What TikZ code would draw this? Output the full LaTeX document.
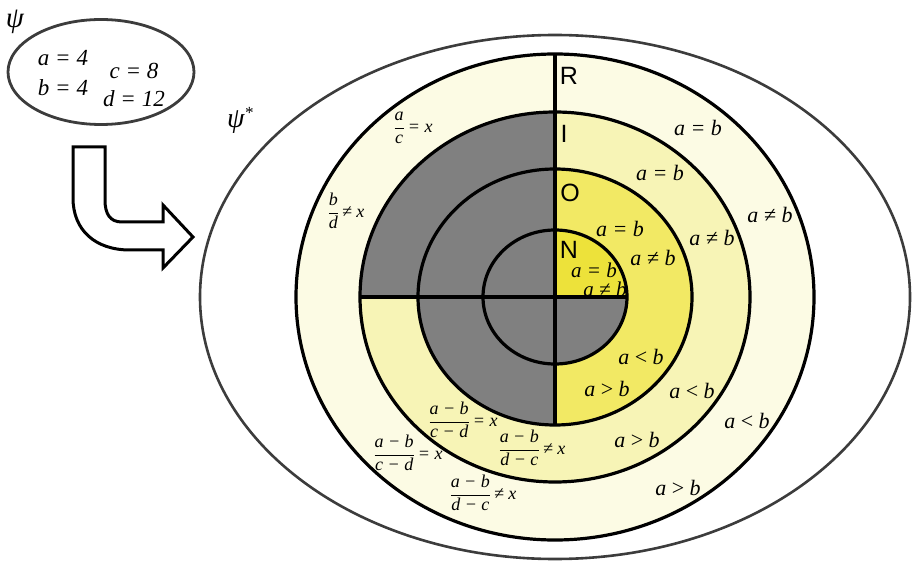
\documentclass[tikz,border=0pt]{standalone}
\usepackage{fontspec}
\setmainfont{Liberation Serif}
\setsansfont{Liberation Sans}
\usetikzlibrary{shapes.geometric}
\definecolor{colR}{HTML}{FCFBE4}
\definecolor{colI}{HTML}{F7F4B6}
\definecolor{colO}{HTML}{F2E964}
\definecolor{colN}{HTML}{EDE23A}
\definecolor{colG}{HTML}{808080}
\definecolor{edgeG}{HTML}{3C3C3C}
\newcommand{\myfr}[2]{$\displaystyle\frac{\hbox{#1}}{\hbox{#2}}$}
\tikzset{
  ring/.style={draw=black, line width=3.2pt},
  grayline/.style={draw=edgeG, line width=2.6pt},
  eq/.style={font=\fontsize{22}{24}\selectfont\itshape, inner sep=0pt},
  neq/.style={font=\fontsize{21}{23}\selectfont\itshape, inner sep=0pt},
  freq/.style={font=\fontsize{18}{20}\selectfont\itshape, inner sep=0pt},
  ringname/.style={font=\fontsize{25}{27}\selectfont\sffamily, inner sep=0pt},
  psieq/.style={font=\fontsize{23}{25}\selectfont\itshape, inner sep=0pt},
  arrowshape/.style={draw=black, fill=white, line width=3pt, line join=miter}
}
\begin{document}
\begin{tikzpicture}[x=1pt,y=-1pt]
\useasboundingbox (0,0) rectangle (912,561);
% outer psi* ellipse
\coordinate (C) at (555,297);
\draw[grayline] (C) ellipse [x radius=355pt, y radius=262pt];
% ring fills
\fill[colR] (C) ellipse [x radius=259pt, y radius=243pt];
\fill[colI] (C) ellipse [x radius=195pt, y radius=185pt];
\fill[colO] (C) ellipse [x radius=137pt, y radius=128pt];
\fill[colN] (C) ellipse [x radius=72pt, y radius=67pt];
% gray quadrants
\begin{scope}
  \clip (0,0) rectangle (555,297);
  \fill[colG] (C) ellipse [x radius=195pt, y radius=185pt];
\end{scope}
\begin{scope}
  \clip (0,297) rectangle (555,561);
  \fill[colG] (C) ellipse [x radius=137pt, y radius=128pt];
\end{scope}
\begin{scope}
  \clip (555,297) rectangle (912,561);
  \fill[colG] (C) ellipse [x radius=72pt, y radius=67pt];
\end{scope}
% ring outlines
\draw[ring] (C) ellipse [x radius=259pt, y radius=243pt];
\draw[ring] (C) ellipse [x radius=195pt, y radius=185pt];
\draw[ring] (C) ellipse [x radius=137pt, y radius=128pt];
\draw[ring] (C) ellipse [x radius=72pt, y radius=67pt];
\coordinate (vtop) at (555,54);
\coordinate (vbot) at (555,425);
\coordinate (hl) at (360,297);
\coordinate (hr) at (627,297);
\draw[ring] (vtop) -- (vbot);
\draw[ring] (hl) -- (hr);
% psi ellipse
\node[ellipse, draw=edgeG, line width=2.8pt, minimum width=186pt, minimum height=105pt, inner sep=0pt] (psibox) at (101,72) {};
\node[font=\fontsize{29}{30}\selectfont\itshape, inner sep=0pt] (psi) at (15,22) {ψ};
\node[psieq] (a4) at (63,58) {a = 4};
\node[psieq] (b4) at (63,88) {b = 4};
\node[psieq] (c8) at (134,71) {c = 8};
\node[psieq] (d12) at (134,99) {d = 12};
% arrow
\draw[arrowshape] (73,147) -- (105,147) -- (105,200) .. controls (105,214) and (110,222) .. (122,222) -- (163,222) -- (163,205) -- (193,237) -- (163,268) -- (163,250) -- (130,250) .. controls (95,250) and (73,230) .. (73,198) -- cycle;
% psi*
\node[font=\fontsize{28}{30}\selectfont\itshape, inner sep=0pt] (psis) at (240,120) {ψ\raisebox{9pt}{\fontsize{17}{18}\selectfont *}};
% ring names
\node[ringname] (nR) at (569,76) {R};
\node[ringname] (nI) at (564,134) {I};
\node[ringname] (nO) at (570,193) {O};
\node[ringname] (nN) at (569,250) {N};
% R ring labels
\node[eq] (r1) at (698,128) {a = b};
\node[eq] (r2) at (770,215) {a ≠ b};
\node[eq] (r3) at (747,421) {a {\upshape<} b};
\node[eq] (r4) at (678,488) {a {\upshape>} b};
\node[freq] (r5) at (413,128) {\myfr{a}{c}\,= x};
\node[freq] (r6) at (346,211) {\myfr{b}{d}\,≠ x};
\node[freq] (r7) at (408,453) {\myfr{a − b}{c − d}\,= x};
\node[freq] (r8) at (483,493) {\myfr{a − b}{d − c}\,≠ x};
% I ring labels
\node[eq] (i1) at (660,173) {a = b};
\node[eq] (i2) at (712,238) {a ≠ b};
\node[eq] (i3) at (692,391) {a {\upshape<} b};
\node[eq] (i4) at (637,440) {a {\upshape>} b};
\node[freq] (i5) at (463,420) {\myfr{a − b}{c − d}\,= x};
\node[freq] (i6) at (532,448) {\myfr{a − b}{d − c}\,≠ x};
% O ring labels
\node[eq] (o1) at (620,229) {a = b};
\node[eq] (o2) at (653,258) {a ≠ b};
\node[eq] (o3) at (641,357) {a {\upshape<} b};
\node[eq] (o4) at (607,389) {a {\upshape>} b};
% N labels
\node[neq] (n1) at (594,270) {a = b};
\node[neq] (n2) at (605,289) {a ≠ b};
\end{tikzpicture}
\end{document}
